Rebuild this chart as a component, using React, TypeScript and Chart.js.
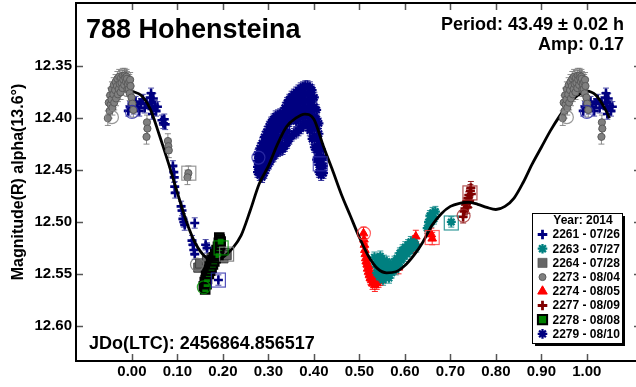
import React, { useEffect, useRef } from "react";
import { Chart, registerables } from "chart.js";

Chart.register(...registerables);

// ---------- data ----------
const X_TICKS = [0, 0.1, 0.2, 0.3, 0.4, 0.5, 0.6, 0.7, 0.8, 0.9, 1.0];
const Y_TICKS = [12.35, 12.4, 12.45, 12.5, 12.55, 12.6];
const X_MIN = -0.123;
const X_MAX = 1.119;
const Y_MIN = 12.289;
const Y_MAX = 12.634;

const TITLE = "788 Hohensteina";
const PERIOD_TEXT = "Period: 43.49 ± 0.02 h";
const AMP_TEXT = "Amp: 0.17";
const JD_TEXT = "JDo(LTC): 2456864.856517";
const Y_TITLE = "Magnitude(R) alpha(13.6°)";
const LEGEND_TITLE = "Year: 2014";

const CURVE_PHASE = [
  0.0, 0.02, 0.04, 0.06, 0.08, 0.1, 0.12, 0.14, 0.16, 0.18, 0.2, 0.22, 0.24, 0.26, 0.28, 0.3, 0.32, 0.34,
  0.36, 0.38, 0.4, 0.42, 0.44, 0.46, 0.48, 0.5, 0.52, 0.54, 0.56, 0.58, 0.6, 0.62, 0.64, 0.66, 0.68, 0.7,
  0.72, 0.74, 0.76, 0.78, 0.8, 0.82, 0.84, 0.86, 0.88, 0.9, 0.92, 0.94, 0.96, 0.98, 1.0, 1.02, 1.04, 1.05,
];
const CURVE_MAG = [
  12.374, 12.378, 12.391, 12.416, 12.443, 12.472, 12.5, 12.521, 12.533, 12.537, 12.534, 12.526, 12.513,
  12.489, 12.463, 12.446, 12.425, 12.408, 12.4, 12.396, 12.401, 12.426, 12.449, 12.473, 12.494, 12.515,
  12.533, 12.545, 12.549, 12.548, 12.542, 12.532, 12.519, 12.503, 12.492, 12.485, 12.482, 12.481, 12.483,
  12.486, 12.488, 12.485, 12.477, 12.462, 12.444, 12.428, 12.412, 12.398, 12.386, 12.378, 12.374, 12.378,
  12.391, 12.4,
];

type P = [number, number];

const S2261: P[] = [
  [0.992, 12.393], [0.996, 12.389], [0.0, 12.386], [0.004, 12.391], [0.008, 12.384], [0.012, 12.389],
  [0.016, 12.393], [0.02, 12.386], [0.024, 12.382], [0.028, 12.39], [0.033, 12.386], [0.04, 12.38],
  [0.042, 12.376], [0.043, 12.385], [0.044, 12.391], [0.045, 12.396], [0.047, 12.381], [0.05, 12.388],
  [0.053, 12.393], [0.056, 12.389], [0.066, 12.402], [0.069, 12.405], [0.071, 12.401], [0.073, 12.406],
  [0.09, 12.446], [0.092, 12.452], [0.093, 12.457], [0.094, 12.466], [0.095, 12.472], [0.108, 12.485],
  [0.11, 12.489], [0.112, 12.497], [0.114, 12.5], [0.116, 12.503], [0.138, 12.501], [0.132, 12.518],
  [0.134, 12.522], [0.136, 12.527], [0.138, 12.531], [0.162, 12.522], [0.165, 12.525], [0.19, 12.556],
];
const S2263: P[] = [
  [0.533, 12.534], [0.536, 12.541], [0.538, 12.549], [0.54, 12.536], [0.542, 12.545], [0.544, 12.553],
  [0.546, 12.533], [0.548, 12.54], [0.55, 12.548], [0.552, 12.556], [0.554, 12.537], [0.556, 12.544],
  [0.558, 12.551], [0.56, 12.538], [0.562, 12.546], [0.565, 12.554], [0.568, 12.541], [0.571, 12.549],
  [0.574, 12.543], [0.577, 12.538], [0.58, 12.546], [0.583, 12.535], [0.586, 12.541], [0.589, 12.53],
  [0.592, 12.537], [0.595, 12.527], [0.598, 12.533], [0.601, 12.524], [0.604, 12.531], [0.607, 12.522],
  [0.61, 12.528], [0.613, 12.519], [0.617, 12.525], [0.621, 12.52], [0.625, 12.524], [0.649, 12.506],
  [0.652, 12.5], [0.655, 12.494], [0.658, 12.5], [0.661, 12.491], [0.664, 12.497], [0.667, 12.49],
  [0.702, 12.5],
];
const S2264: P[] = [
  [0.146, 12.544], [0.15, 12.54], [0.165, 12.537], [0.175, 12.535], [0.185, 12.533], [0.195, 12.534],
  [0.201, 12.535], [0.205, 12.53], [0.208, 12.532],
];
const S2273: P[] = [
  [0.947, 12.4], [0.949, 12.385], [0.951, 12.393], [0.952, 12.378], [0.953, 12.387], [0.955, 12.382],
  [0.956, 12.372], [0.957, 12.39], [0.959, 12.377], [0.96, 12.368], [0.961, 12.385], [0.963, 12.373],
  [0.964, 12.365], [0.965, 12.381], [0.967, 12.369], [0.968, 12.362], [0.969, 12.377], [0.971, 12.372],
  [0.972, 12.36], [0.973, 12.367], [0.975, 12.375], [0.976, 12.361], [0.977, 12.366], [0.979, 12.371],
  [0.98, 12.359], [0.981, 12.363], [0.983, 12.368], [0.984, 12.359], [0.985, 12.361], [0.987, 12.365],
  [0.988, 12.36], [0.989, 12.362], [0.99, 12.372], [0.991, 12.367], [0.993, 12.372], [0.994, 12.365],
  [0.995, 12.376], [0.996, 12.363], [0.997, 12.369], [0.999, 12.38], [0.001, 12.386], [0.003, 12.392],
  [0.033, 12.404], [0.034, 12.41], [0.032, 12.418], [0.079, 12.422], [0.08, 12.427], [0.081, 12.431],
  [0.124, 12.453], [0.122, 12.457],
];
const S2274: P[] = [
  [0.509, 12.511], [0.51, 12.517], [0.511, 12.522], [0.512, 12.527], [0.513, 12.531], [0.514, 12.535],
  [0.515, 12.538], [0.517, 12.541], [0.518, 12.545], [0.52, 12.548], [0.521, 12.543], [0.522, 12.551],
  [0.524, 12.554], [0.525, 12.549], [0.527, 12.556], [0.529, 12.559], [0.53, 12.553], [0.532, 12.557],
  [0.534, 12.561], [0.536, 12.555], [0.538, 12.559], [0.54, 12.553], [0.542, 12.557], [0.544, 12.551],
  [0.546, 12.555], [0.548, 12.549], [0.55, 12.553], [0.552, 12.548], [0.586, 12.544], [0.62, 12.524],
  [0.622, 12.519], [0.624, 12.514], [0.658, 12.512], [0.66, 12.516],
];
const S2277: P[] = [
  [0.728, 12.495], [0.73, 12.49], [0.732, 12.487], [0.734, 12.483], [0.736, 12.48], [0.737, 12.486],
  [0.739, 12.477], [0.741, 12.474], [0.742, 12.48], [0.744, 12.47], [0.745, 12.467], [0.746, 12.473],
];
const S2278: P[] = [
  [0.158, 12.562], [0.16, 12.558], [0.161, 12.565], [0.162, 12.556], [0.163, 12.552], [0.164, 12.56],
  [0.165, 12.555], [0.166, 12.549], [0.168, 12.546], [0.169, 12.55], [0.171, 12.543], [0.172, 12.547],
  [0.174, 12.54], [0.175, 12.544], [0.177, 12.537], [0.178, 12.541], [0.18, 12.534], [0.181, 12.538],
  [0.183, 12.531], [0.184, 12.535], [0.186, 12.527], [0.187, 12.531], [0.189, 12.524], [0.19, 12.528],
  [0.19, 12.532], [0.191, 12.52], [0.192, 12.525], [0.192, 12.515], [0.193, 12.517], [0.194, 12.522],
  [0.195, 12.519],
];
// 2279: columns of [phase, magnitudes]
const S2279_COLS: [number, number[]][] = [
  [0.276, [12.435, 12.441, 12.447, 12.452]],
  [0.281, [12.429, 12.436, 12.443, 12.45, 12.455]],
  [0.286, [12.424, 12.431, 12.438, 12.445, 12.452, 12.457]],
  [0.291, [12.418, 12.425, 12.432, 12.439, 12.446, 12.453]],
  [0.296, [12.413, 12.42, 12.427, 12.434, 12.441, 12.448]],
  [0.301, [12.408, 12.415, 12.422, 12.429, 12.436, 12.444]],
  [0.306, [12.404, 12.411, 12.418, 12.425, 12.432, 12.44]],
  [0.311, [12.401, 12.408, 12.415, 12.422, 12.429, 12.437]],
  [0.316, [12.398, 12.405, 12.412, 12.419, 12.426, 12.434]],
  [0.321, [12.397, 12.404, 12.411, 12.418, 12.425, 12.432]],
  [0.326, [12.396, 12.403, 12.41, 12.424, 12.431]],
  [0.331, [12.395, 12.402, 12.409, 12.416, 12.43]],
  [0.336, [12.39, 12.397, 12.404, 12.411, 12.418, 12.427]],
  [0.341, [12.385, 12.392, 12.399, 12.406, 12.413, 12.424]],
  [0.346, [12.382, 12.389, 12.396, 12.403, 12.42]],
  [0.351, [12.379, 12.386, 12.393, 12.4, 12.417]],
  [0.356, [12.377, 12.384, 12.391, 12.398, 12.415]],
  [0.361, [12.375, 12.382, 12.389, 12.396, 12.403, 12.414]],
  [0.366, [12.373, 12.38, 12.387, 12.394, 12.401, 12.412]],
  [0.371, [12.371, 12.378, 12.385, 12.392, 12.399, 12.41]],
  [0.376, [12.37, 12.377, 12.384, 12.391, 12.398, 12.407]],
  [0.381, [12.369, 12.376, 12.383, 12.39, 12.397, 12.405]],
  [0.386, [12.369, 12.376, 12.383, 12.39, 12.398, 12.407]],
  [0.391, [12.37, 12.377, 12.385, 12.393, 12.402, 12.412]],
  [0.396, [12.373, 12.381, 12.39, 12.399, 12.409, 12.42]],
  [0.401, [12.38, 12.389, 12.398, 12.407, 12.417, 12.428]],
  [0.406, [12.392, 12.401, 12.41, 12.42, 12.431, 12.44]],
  [0.411, [12.405, 12.415, 12.425, 12.436, 12.445, 12.452]],
  [0.416, [12.43, 12.44, 12.448, 12.455]],
  [0.421, [12.438, 12.446, 12.453]],
];

// measurement error (mag) read per session
const ERR = { s2261: 0.005, s2263: 0.005, s2264: 0.004, s2273: 0.007, s2274: 0.006, s2277: 0.006, s2278: 0.004, s2279: 0.005 };
// first / last point of each session (open circle / open square)
const START: Record<string, P | null> = {
  s2261: [0.0, 12.394], s2263: null, s2264: [0.143, 12.541], s2273: [0.956, 12.399],
  s2274: [0.51, 12.511], s2277: [0.729, 12.494], s2278: [0.158, 12.563], s2279: [0.278, 12.438],
};
const END: Record<string, P | null> = {
  s2261: [0.19, 12.556], s2263: [0.702, 12.501], s2264: [0.208, 12.531], s2273: [0.125, 12.453],
  s2274: [0.66, 12.515], s2277: [0.743, 12.472], s2278: [0.196, 12.525], s2279: [0.414, 12.444],
};

// ---------- styling ----------
type SeriesDef = {
  key: string; label: string; data: P[]; style: string; fill: string; stroke: string;
  radius: number; lw: number; order: number; errColor: string; markColor: string;
};

const S2279: P[] = [];
for (const [ph, mags] of S2279_COLS) for (const m of mags) S2279.push([ph, m]);

const SERIES: SeriesDef[] = [
  { key: "s2261", label: "2261 - 07/26", data: S2261, style: "cross", fill: "#000080", stroke: "#000080", radius: 4.5, lw: 2.6, order: 5, errColor: "rgba(0,0,128,0.7)", markColor: "rgba(40,40,170,0.8)" },
  { key: "s2263", label: "2263 - 07/27", data: S2263, style: "star", fill: "#008080", stroke: "#008080", radius: 4.5, lw: 2.2, order: 6, errColor: "rgba(0,128,128,0.8)", markColor: "rgba(0,128,128,0.8)" },
  { key: "s2264", label: "2264 - 07/28", data: S2264, style: "rect", fill: "#666666", stroke: "#404040", radius: 6.5, lw: 1, order: 3, errColor: "rgba(110,110,110,0.8)", markColor: "rgba(120,120,120,0.9)" },
  { key: "s2273", label: "2273 - 08/04", data: S2273, style: "circle", fill: "#808080", stroke: "#5a5a5a", radius: 3.6, lw: 1, order: 0, errColor: "rgba(120,120,120,0.85)", markColor: "rgba(140,140,140,0.9)" },
  { key: "s2274", label: "2274 - 08/05", data: S2274, style: "triangle", fill: "#ff0000", stroke: "#ff0000", radius: 5, lw: 1, order: 7, errColor: "rgba(255,0,0,0.85)", markColor: "rgba(255,60,60,0.8)" },
  { key: "s2277", label: "2277 - 08/09", data: S2277, style: "cross", fill: "#800000", stroke: "#800000", radius: 4.5, lw: 2.6, order: 8, errColor: "rgba(128,0,0,0.85)", markColor: "rgba(160,40,40,0.8)" },
  { key: "s2278", label: "2278 - 08/08", data: S2278, style: "rect", fill: "#008000", stroke: "#000000", radius: 5.8, lw: 2.4, order: 2, errColor: "rgba(0,128,0,0.8)", markColor: "rgba(0,150,0,0.8)" },
  { key: "s2279", label: "2279 - 08/10", data: S2279, style: "star", fill: "#000080", stroke: "#000080", radius: 4.5, lw: 2.2, order: 9, errColor: "rgba(0,0,128,0.8)", markColor: "rgba(50,50,170,0.8)" },
];

const FONT = "'Liberation Sans', Arial, sans-serif";

// phase-folded display: points near the ends are repeated one cycle away
function fold(pts: P[]): { x: number; y: number }[] {
  const out: { x: number; y: number }[] = [];
  for (const [x, y] of pts) {
    out.push({ x, y });
    if (x < 0.06) out.push({ x: x + 1, y });
    if (x > 0.94) out.push({ x: x - 1, y });
  }
  return out;
}

function drawMark(ctx: CanvasRenderingContext2D, style: string, x: number, y: number, r: number, fill: string, stroke: string, lw: number) {
  ctx.save();
  ctx.fillStyle = fill;
  ctx.strokeStyle = stroke;
  ctx.lineWidth = lw;
  ctx.beginPath();
  if (style === "cross") {
    ctx.moveTo(x - r, y); ctx.lineTo(x + r, y);
    ctx.moveTo(x, y - r); ctx.lineTo(x, y + r);
    ctx.stroke();
  } else if (style === "star") {
    for (let i = 0; i < 4; i++) {
      const a = (i * Math.PI) / 4;
      ctx.moveTo(x - r * Math.cos(a), y - r * Math.sin(a));
      ctx.lineTo(x + r * Math.cos(a), y + r * Math.sin(a));
    }
    ctx.stroke();
  } else if (style === "rect") {
    const s = r * Math.SQRT1_2;
    ctx.rect(x - s, y - s, 2 * s, 2 * s);
    ctx.fill(); ctx.stroke();
  } else if (style === "circle") {
    ctx.arc(x, y, r, 0, Math.PI * 2);
    ctx.fill(); ctx.stroke();
  } else if (style === "triangle") {
    ctx.moveTo(x, y - r);
    ctx.lineTo(x + r * 0.866, y + r * 0.5);
    ctx.lineTo(x - r * 0.866, y + r * 0.5);
    ctx.closePath();
    ctx.fill(); ctx.stroke();
  }
  ctx.restore();
}

const decorPlugin = {
  id: "decor",
  beforeDatasetsDraw(chart: any) {
    const { ctx, chartArea } = chart;
    const xs = chart.scales.x, ys = chart.scales.y;
    ctx.save();
    ctx.beginPath();
    ctx.rect(chartArea.left, chartArea.top, chartArea.right - chartArea.left, chartArea.bottom - chartArea.top);
    ctx.clip();
    for (const s of SERIES) {
      const e = (ERR as any)[s.key];
      ctx.strokeStyle = s.errColor;
      ctx.lineWidth = 1;
      ctx.beginPath();
      for (const p of fold(s.data)) {
        const px = xs.getPixelForValue(p.x);
        const y1 = ys.getPixelForValue(p.y - e);
        const y2 = ys.getPixelForValue(p.y + e);
        ctx.moveTo(px, y1); ctx.lineTo(px, y2);
        ctx.moveTo(px - 3, y1); ctx.lineTo(px + 3, y1);
        ctx.moveTo(px - 3, y2); ctx.lineTo(px + 3, y2);
      }
      ctx.stroke();
    }
    ctx.restore();
  },
  afterDatasetsDraw(chart: any) {
    const { ctx, chartArea } = chart;
    const xs = chart.scales.x, ys = chart.scales.y;
    ctx.save();
    ctx.beginPath();
    ctx.rect(chartArea.left, chartArea.top, chartArea.right - chartArea.left, chartArea.bottom - chartArea.top);
    ctx.clip();
    ctx.lineWidth = 1.2;
    for (const s of SERIES) {
      ctx.strokeStyle = s.markColor;
      const st = START[s.key];
      if (st) {
        for (const p of fold([st])) {
          ctx.beginPath();
          ctx.arc(xs.getPixelForValue(p.x), ys.getPixelForValue(p.y), 6.5, 0, Math.PI * 2);
          ctx.stroke();
        }
      }
      const en = END[s.key];
      if (en) {
        for (const p of fold([en])) {
          ctx.strokeRect(xs.getPixelForValue(p.x) - 7, ys.getPixelForValue(p.y) - 7, 14, 14);
        }
      }
    }
    ctx.restore();
  },
  afterDraw(chart: any) {
    const { ctx, chartArea } = chart;
    const xs = chart.scales.x, ys = chart.scales.y;
    const { left, right, top, bottom } = chartArea;
    ctx.save();
    // tick marks inside on all four sides
    ctx.strokeStyle = "#555";
    ctx.lineWidth = 1.5;
    ctx.beginPath();
    for (const v of X_TICKS) {
      const px = Math.round(xs.getPixelForValue(v)) + 0.5;
      ctx.moveTo(px, bottom); ctx.lineTo(px, bottom - 7);
      ctx.moveTo(px, top); ctx.lineTo(px, top + 7);
    }
    for (const v of Y_TICKS) {
      const py = Math.round(ys.getPixelForValue(v)) + 0.5;
      ctx.moveTo(left, py); ctx.lineTo(left + 7, py);
      ctx.moveTo(right, py); ctx.lineTo(right - 7, py);
    }
    ctx.stroke();
    // frame
    ctx.strokeStyle = "#000";
    ctx.lineWidth = 2;
    ctx.strokeRect(left, top, right - left, bottom - top);

    // texts
    ctx.fillStyle = "#000";
    ctx.textBaseline = "alphabetic";
    ctx.font = `bold 27px ${FONT}`;
    ctx.textAlign = "left";
    ctx.fillText(TITLE, 86, 38);
    ctx.font = `bold 18px ${FONT}`;
    ctx.textAlign = "right";
    ctx.fillText(PERIOD_TEXT, 624, 29.5);
    ctx.fillText(AMP_TEXT, 624, 49.5);
    ctx.textAlign = "left";
    ctx.fillText(JD_TEXT, 89, 349);

    // y axis title
    ctx.save();
    ctx.translate(19, 182);
    ctx.rotate(-Math.PI / 2);
    ctx.font = `bold 16px ${FONT}`;
    ctx.textAlign = "center";
    ctx.textBaseline = "middle";
    ctx.fillText(Y_TITLE, 0, 0);
    ctx.restore();

    // legend box
    const bx = 532, by = 213, bw = 90, bh = 130;
    ctx.fillStyle = "#000";
    ctx.fillRect(bx + 3, by + 3, bw, bh);
    ctx.fillStyle = "#fff";
    ctx.fillRect(bx, by, bw, bh);
    ctx.strokeStyle = "#000";
    ctx.lineWidth = 1;
    ctx.strokeRect(bx + 0.5, by + 0.5, bw, bh);
    ctx.fillStyle = "#000";
    ctx.font = `bold 12px ${FONT}`;
    ctx.textAlign = "center";
    ctx.textBaseline = "middle";
    ctx.fillText(LEGEND_TITLE, 583, 221);
    ctx.textAlign = "left";
    SERIES.forEach((s, i) => {
      const cy = 234.5 + i * 14.2;
      const r = s.style === "circle" ? 3.5 : s.style === "rect" ? 6.5 : s.style === "triangle" ? 5.5 : 4.8;
      const lw = s.style === "rect" ? (s.key === "s2278" ? 2 : 0.5) : s.style === "cross" ? 2.8 : s.style === "star" ? 2.3 : 1;
      drawMark(ctx, s.style, 542.5, cy, r, s.fill, s.stroke, lw);
      ctx.fillStyle = "#000";
      ctx.fillText(s.label, 552.5, cy + 0.5);
    });
    ctx.restore();
  },
};

export default function App() {
  const ref = useRef<HTMLCanvasElement | null>(null);

  useEffect(() => {
    document.body.style.margin = "0";
    const canvas = ref.current;
    if (!canvas) return;

    const datasets: any[] = SERIES.map((s) => ({
      label: s.label,
      data: fold(s.data),
      pointStyle: s.style,
      pointRadius: s.radius,
      pointBackgroundColor: s.fill,
      pointBorderColor: s.stroke,
      pointBorderWidth: s.lw,
      showLine: false,
      order: s.order,
    }));
    datasets.push({
      label: "fit",
      data: CURVE_PHASE.map((x, i) => ({ x, y: CURVE_MAG[i] })),
      showLine: true,
      borderColor: "#000",
      borderWidth: 2.8,
      pointRadius: 0,
      cubicInterpolationMode: "monotone",
      fill: false,
      order: 1,
    });

    const chart = new Chart(canvas, {
      type: "scatter",
      data: { datasets },
      options: {
        animation: false,
        responsive: false,
        devicePixelRatio: 1,
        layout: { autoPadding: false, padding: { left: 0, top: 3, right: 4, bottom: 0 } },
        plugins: { legend: { display: false }, tooltip: { enabled: false } },
        scales: {
          x: {
            type: "linear",
            min: X_MIN,
            max: X_MAX,
            grid: { display: false, drawTicks: false },
            border: { display: false },
            afterBuildTicks: (scale: any) => {
              scale.ticks = X_TICKS.map((v) => ({ value: v }));
            },
            afterFit: (scale: any) => {
              scale.height = 26;
              scale.paddingLeft = 0;
              scale.paddingRight = 0;
              scale.paddingTop = 0;
              scale.paddingBottom = 0;
            },
            ticks: {
              autoSkip: false,
              maxRotation: 0,
              padding: 2,
              color: "#000",
              font: { family: FONT, size: 15, weight: "bold" },
              callback: (v: any) => Number(v).toFixed(2),
            },
          },
          y: {
            type: "linear",
            reverse: true,
            min: Y_MIN,
            max: Y_MAX,
            grid: { display: false, drawTicks: false },
            border: { display: false },
            afterBuildTicks: (scale: any) => {
              scale.ticks = Y_TICKS.map((v) => ({ value: v }));
            },
            afterFit: (scale: any) => {
              scale.width = 76;
              scale.paddingLeft = 0;
              scale.paddingRight = 0;
              scale.paddingTop = 0;
              scale.paddingBottom = 0;
            },
            ticks: {
              autoSkip: false,
              padding: 4,
              color: "#000",
              font: { family: FONT, size: 15, weight: "bold" },
              callback: (v: any) => Number(v).toFixed(2),
            },
          },
        },
      },
      plugins: [decorPlugin],
    } as any);

    return () => chart.destroy();
  }, []);

  return (
    <div style={{ width: 636, height: 387, overflow: "hidden", position: "relative", background: "#fff" }}>
      <canvas ref={ref} width={645} height={387} style={{ display: "block", width: 645, height: 387 }} />
    </div>
  );
}
